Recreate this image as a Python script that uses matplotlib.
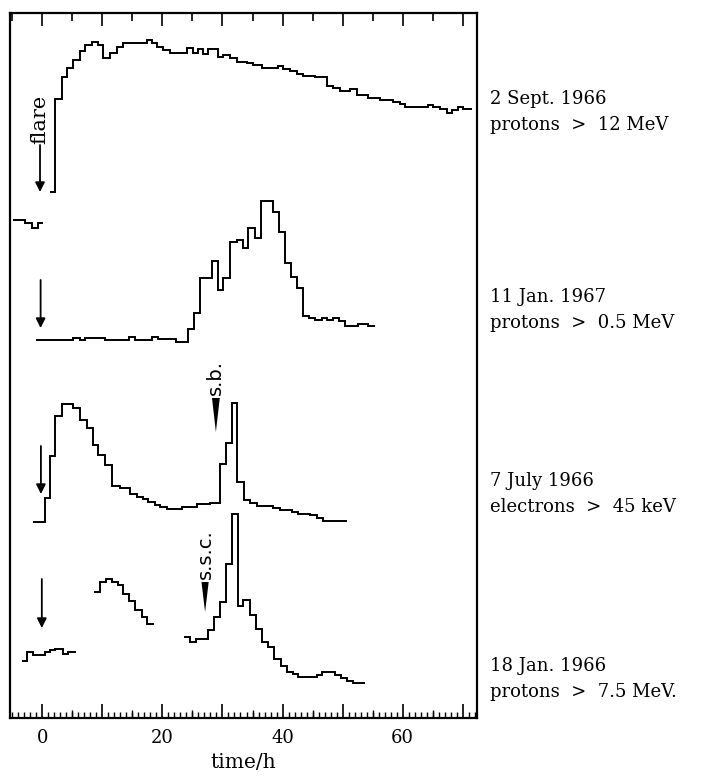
import matplotlib.pyplot as plt
from matplotlib.ticker import MultipleLocator, FuncFormatter

plt.rcParams["font.family"] = "DejaVu Serif"

# time edges (h) and stacked intensity levels (arbitrary units, offset per event)

# 2 Sept. 1966, protons > 12 MeV
sep66_pre_t = [-4.9, -2.9, -1.75, -0.75, 0.1]
sep66_pre_y = [498, 495, 490, 495]
sep66_t = [1.25, 2.1, 3.25, 4.1, 5.1, 6.25, 7.1, 8.25, 9.25, 10.1, 11.25, 12.4,
           13.4, 17.4, 18.25, 19.1, 20.1, 21.25, 24.1, 25.1, 25.9, 26.75, 27.6,
           29.25, 30.1, 31.25, 32.4, 34.1, 35.1, 36.6, 39.25, 40.1, 41.25, 42.4,
           43.4, 45.4, 47.4, 48.4, 49.6, 51.25, 52.4, 54.25, 56.25, 58.4, 59.6,
           60.4, 64.25, 65.1, 66.25, 67.4, 68.25, 69.25, 70.1, 71.6]
sep66_y = [526, 619, 641, 650, 658, 667, 673, 676, 673, 660, 665, 671, 675,
           678, 675, 671, 668, 665, 670, 665, 669, 664, 669, 661, 663, 660, 656,
           655, 653, 650, 652, 649, 647, 644, 642, 641, 632, 630, 627, 629, 623,
           620, 618, 616, 614, 611, 613, 611, 609, 605, 608, 611, 609]

# 11 Jan. 1967, protons > 0.5 MeV
jan67_t = [-1.1, 5.1, 6.25, 7.1, 10.4, 14.4, 15.4, 18.25, 19.25, 22.25, 24.25,
           25.25, 26.25, 28.25, 29.25, 30.1, 31.25, 32.4, 33.4, 34.25, 35.4,
           36.4, 38.4, 39.4, 40.4, 41.4, 42.4, 43.4, 44.4, 45.4, 46.6, 47.4,
           48.4, 49.4, 50.4, 52.6, 54.25, 55.4]
jan67_y = [378, 380, 378, 380, 378, 381, 378, 381, 379, 376, 389, 405, 440,
           457, 428, 440, 476, 478, 470, 490, 480, 517, 506, 486, 455, 441, 430,
           402, 400, 398, 400, 398, 400, 397, 392, 394, 392]

# 7 July 1966, electrons > 45 keV
jul66_t = [-1.6, 0.4, 1.25, 2.1, 3.25, 5.1, 6.25, 7.4, 8.4, 9.25, 10.4, 11.6,
           12.9, 14.6, 15.75, 16.75, 17.6, 18.75, 19.6, 20.75, 23.25, 25.75,
           27.9, 29.6, 30.6, 31.6, 32.4, 33.6, 34.6, 35.75, 38.4, 39.6, 41.6,
           42.6, 44.6, 45.75, 46.75, 50.75]
jul66_y = [196, 220, 262, 302, 314, 310, 298, 290, 273, 263, 253, 232, 230,
           224, 221, 219, 216, 213, 211, 209, 211, 214, 215, 254, 275, 315, 236,
           218, 215, 212, 210, 208, 206, 204, 203, 200, 197]

# 18 Jan. 1966, protons > 7.5 MeV (three separate data stretches)
jan66_a_t = [-3.4, -2.6, -1.6, 0.4, 1.25, 2.1, 3.4, 4.25, 5.6]
jan66_a_y = [57, 66, 63, 66, 68, 69, 64, 66]
jan66_b_t = [8.6, 9.6, 10.6, 11.6, 12.6, 13.4, 14.4, 15.4, 16.6, 17.4, 18.6]
jan66_b_y = [126, 136, 139, 136, 133, 124, 117, 108, 101, 94]
jan66_c_t = [23.6, 24.6, 25.6, 27.6, 28.6, 29.6, 30.6, 31.6, 32.6, 33.4, 34.6,
             35.6, 36.6, 37.6, 38.6, 39.75, 40.75, 41.75, 42.6, 45.75, 46.6,
             48.75, 49.75, 50.75, 51.75, 53.75]
jan66_c_y = [81, 76, 79, 88, 101, 116, 154, 204, 112, 118, 103, 89, 76, 71,
             59, 52, 46, 44, 41, 43, 46, 43, 40, 37, 35]

labels = ["2 Sept. 1966\nprotons  >  12 MeV",
          "11 Jan. 1967\nprotons  >  0.5 MeV",
          "7 July 1966\nelectrons  >  45 keV",
          "18 Jan. 1966\nprotons  >  7.5 MeV."]
label_y = [112, 310, 494, 679]

fig = plt.figure(figsize=(7.01, 7.76), dpi=100)
ax = fig.add_axes([10 / 701, 58 / 776, 467 / 701, 705 / 776])

kw = dict(color="black", lw=1.4, baseline=None)
ax.stairs(sep66_pre_y, sep66_pre_t, **kw)
ax.stairs(sep66_y, sep66_t, **kw)
ax.stairs(jan67_y, jan67_t, **kw)
ax.stairs(jul66_y, jul66_t, **kw)
ax.stairs(jan66_a_y, jan66_a_t, **kw)
ax.stairs(jan66_b_y, jan66_b_t, **kw)
ax.stairs(jan66_c_y, jan66_c_t, **kw)

# flare onset arrows
arrow = dict(arrowstyle="-|>", color="black", lw=1.3, mutation_scale=14,
             shrinkA=0, shrinkB=0)
for x, y0, y1 in [(-0.4, 573, 526), (-0.3, 438, 390),
                  (-0.25, 272, 224), (-0.1, 139, 90)]:
    ax.annotate("", xy=(x, y1), xytext=(x, y0), arrowprops=arrow)
ax.text(-0.5, 574, "flare", rotation=90, ha="center", va="bottom", fontsize=15)

# sudden commencement markers
ax.fill([28.25, 29.55, 28.9], [320, 320, 286], color="black", lw=0)
ax.text(28.9, 323, "s.b.", rotation=90, ha="center", va="bottom",
        fontsize=14, family="DejaVu Sans")
ax.fill([26.5, 27.7, 27.1], [136, 136, 106], color="black", lw=0)
ax.text(27.1, 139, "s.s.c.", rotation=90, ha="center", va="bottom",
        fontsize=14, family="DejaVu Sans")

for txt, y in zip(labels, label_y):
    fig.text(490 / 701, 1 - y / 776, txt, ha="left", va="center",
             fontsize=13, linespacing=1.55)

ax.set_xlim(-5.4, 72.4)
ax.set_ylim(0, 705)
ax.set_yticks([])
for s in ax.spines.values():
    s.set_linewidth(1.6)

ax.xaxis.set_major_locator(MultipleLocator(10))
ax.xaxis.set_minor_locator(MultipleLocator(1))
ax.xaxis.set_major_formatter(
    FuncFormatter(lambda v, p: f"{v:.0f}" if round(v) % 20 == 0 else ""))
ax.tick_params(axis="x", which="major", direction="in", length=10, width=1.2,
               labelsize=13, pad=8)
ax.tick_params(axis="x", which="minor", direction="in", length=4, width=1.0)
ax.set_xlabel("time/h", fontsize=14.5, labelpad=4)

# 5 h ticks on the bottom edge
mid = ax.secondary_xaxis("bottom")
mid.set_xticks(range(5, 75, 10))
mid.set_xticklabels([])
mid.tick_params(direction="in", length=6, width=1.0)
mid.spines["bottom"].set_visible(False)

# ticks along the top edge
top = ax.secondary_xaxis("top")
top.xaxis.set_major_locator(MultipleLocator(10))
top.xaxis.set_minor_locator(MultipleLocator(5))
top.set_xticklabels([])
top.tick_params(which="major", direction="in", length=9, width=1.2)
top.tick_params(which="minor", direction="in", length=6, width=1.2)
top.spines["top"].set_visible(False)

fig.savefig("out.png", dpi=100)
